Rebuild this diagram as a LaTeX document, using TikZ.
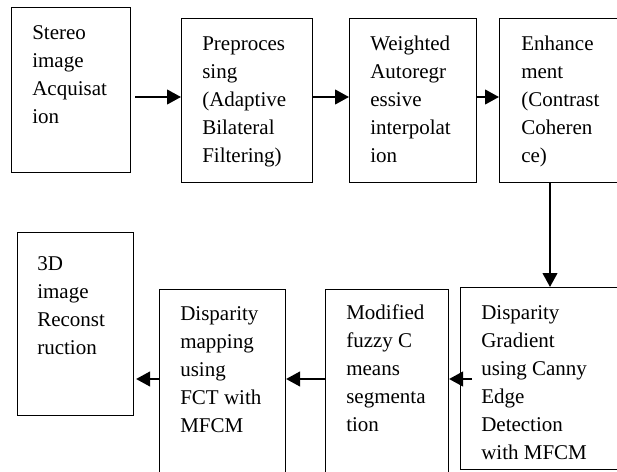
\documentclass[tikz,border=0pt]{standalone}
\usepackage{fontspec}
\setmainfont{Liberation Serif}
\usetikzlibrary{arrows.meta}
\newcommand{\boxlines}[1]{\begin{tabular}[t]{@{}l@{}}#1\end{tabular}}
\begin{document}
\begin{tikzpicture}[x=0.75pt,y=-0.75pt,
  blk/.style={draw=black,line width=0.8pt,rectangle,inner sep=0,anchor=north west},
  txt/.style={anchor=base west,inner sep=0,font=\fontsize{15.75}{21}\selectfont},
  arr/.style={line width=1.6pt,-{Triangle[length=10.5pt,width=11pt]}}]
\useasboundingbox (0,0) rectangle (617,471);
\clip (0,0) rectangle (617,471);
\fill[white] (0,0) rectangle (617,471);
% boxes
\node[blk,minimum width=119*0.75pt,minimum height=165*0.75pt] (b1) at (11,7) {};
\node[blk,minimum width=131*0.75pt,minimum height=164*0.75pt] (b2) at (181,18) {};
\node[blk,minimum width=127*0.75pt,minimum height=164*0.75pt] (b3) at (349,18) {};
\node[blk,minimum width=140*0.75pt,minimum height=164*0.75pt] (b4) at (499,18) {};
\node[blk,minimum width=180*0.75pt,minimum height=182*0.75pt] (b5) at (460,287) {};
\node[blk,minimum width=123*0.75pt,minimum height=210*0.75pt] (b6) at (325,289) {};
\node[blk,minimum width=126*0.75pt,minimum height=210*0.75pt] (b7) at (159,289) {};
\node[blk,minimum width=116*0.75pt,minimum height=183*0.75pt] (b8) at (17,232) {};
% texts
\node[txt] (t1) at (32,39) {\boxlines{Stereo\\image\\Acquisat\\ion}};
\node[txt] (t2) at (202,50) {\boxlines{Preproces\\sing\\(Adaptive\\Bilateral\\Filtering)}};
\node[txt] (t3) at (370,50) {\boxlines{Weighted\\Autoregr\\essive\\interpolat\\ion}};
\node[txt] (t4) at (521,50) {\boxlines{Enhance\\ment\\(Contrast\\Coheren\\ce)}};
\node[txt] (t5) at (481,319) {\boxlines{Disparity\\Gradient\\using Canny\\Edge\\Detection\\with MFCM}};
\node[txt] (t6) at (346,319) {\boxlines{Modified\\fuzzy C\\means\\segmenta\\tion}};
\node[txt] (t7) at (180,320) {\boxlines{Disparity\\mapping\\using\\FCT with\\MFCM}};
\node[txt] (t8) at (37,270) {\boxlines{3D\\image\\Reconst\\ruction}};
% connector anchors
\coordinate (s1) at (135,97);
\coordinate (s2) at (312,97);
\coordinate (s3) at (476,97);
\coordinate (s4) at (550,182);
\coordinate (s5) at (472,379);
\coordinate (s6) at (325,379);
\coordinate (s7) at (159,379);
% connectors
\draw[arr] (s1) -- (s1 -| b2.west);
\draw[arr] (s2) -- (s2 -| b3.west);
\draw[arr] (s3) -- (s3 -| b4.west);
\draw[arr] (s4) -- (s4 |- b5.north);
\draw[arr] (s5) -- (s5 -| b6.east);
\draw[arr] (s6) -- (s6 -| b7.east);
\draw[arr] (s7) -- ([xshift=2*0.75pt]s7 -| b8.east);
\end{tikzpicture}
\end{document}
